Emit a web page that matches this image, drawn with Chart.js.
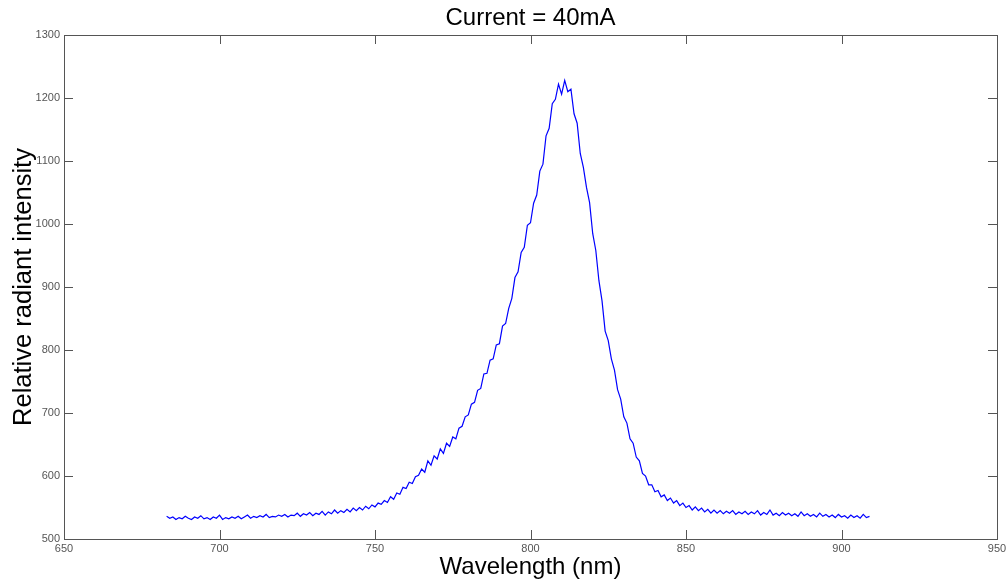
<!DOCTYPE html>
<html>
<head>
<meta charset="utf-8">
<script src="https://cdn.jsdelivr.net/npm/chart.js@4.4.1/dist/chart.umd.min.js"></script>
<style>
  body { margin: 0; background: #fff; }
</style>
</head>
<body>
<canvas id="grafico" width="1007" height="584"></canvas>
<script>
// longitudes de onda (nm), una muestra por nm
const longitudes = [
  683, 684, 685, 686, 687, 688, 689, 690, 691, 692,
  693, 694, 695, 696, 697, 698, 699, 700, 701, 702,
  703, 704, 705, 706, 707, 708, 709, 710, 711, 712,
  713, 714, 715, 716, 717, 718, 719, 720, 721, 722,
  723, 724, 725, 726, 727, 728, 729, 730, 731, 732,
  733, 734, 735, 736, 737, 738, 739, 740, 741, 742,
  743, 744, 745, 746, 747, 748, 749, 750, 751, 752,
  753, 754, 755, 756, 757, 758, 759, 760, 761, 762,
  763, 764, 765, 766, 767, 768, 769, 770, 771, 772,
  773, 774, 775, 776, 777, 778, 779, 780, 781, 782,
  783, 784, 785, 786, 787, 788, 789, 790, 791, 792,
  793, 794, 795, 796, 797, 798, 799, 800, 801, 802,
  803, 804, 805, 806, 807, 808, 809, 810, 811, 812,
  813, 814, 815, 816, 817, 818, 819, 820, 821, 822,
  823, 824, 825, 826, 827, 828, 829, 830, 831, 832,
  833, 834, 835, 836, 837, 838, 839, 840, 841, 842,
  843, 844, 845, 846, 847, 848, 849, 850, 851, 852,
  853, 854, 855, 856, 857, 858, 859, 860, 861, 862,
  863, 864, 865, 866, 867, 868, 869, 870, 871, 872,
  873, 874, 875, 876, 877, 878, 879, 880, 881, 882,
  883, 884, 885, 886, 887, 888, 889, 890, 891, 892,
  893, 894, 895, 896, 897, 898, 899, 900, 901, 902,
  903, 904, 905, 906, 907, 908, 909
]

// intensidad relativa
const intensidad = [
  536, 533, 535, 531, 534, 532, 536, 533, 531, 535,
  533, 537, 532, 534, 531, 535, 533, 538, 531, 534,
  532, 535, 533, 536, 532, 535, 538, 533, 536, 534,
  537, 535, 539, 534, 536, 535, 538, 536, 539, 535,
  538, 537, 541, 536, 540, 538, 542, 537, 541, 539,
  544, 538, 543, 540, 546, 541, 545, 542, 547, 543,
  549, 545, 550, 546, 552, 548, 554, 551, 557, 555,
  561, 558, 567, 563, 573, 571, 582, 580, 590, 588,
  599, 601, 611, 606, 624, 617, 632, 627, 643, 636,
  652, 647, 662, 659, 676, 679, 694, 697, 714, 717,
  736, 739, 762, 763, 784, 786, 808, 810, 838, 842,
  866, 882, 915, 924, 955, 963, 998, 1002, 1033, 1046,
  1084, 1095, 1140, 1152, 1191, 1198, 1222, 1206, 1228, 1210,
  1214, 1175, 1160, 1112, 1090, 1058, 1034, 985, 958, 910,
  878, 830, 815, 786, 768, 737, 722, 694, 684, 659,
  652, 630, 624, 604, 600, 586, 586, 575, 577, 567,
  570, 561, 565, 557, 561, 553, 557, 550, 553, 546,
  551, 545, 549, 543, 547, 541, 546, 541, 545, 540,
  544, 541, 545, 539, 543, 540, 544, 539, 543, 540,
  545, 538, 542, 539, 546, 538, 541, 537, 542, 538,
  541, 537, 540, 536, 543, 537, 540, 536, 539, 535,
  541, 536, 539, 535, 538, 534, 539, 535, 537, 533,
  538, 534, 537, 533, 539, 534, 536
]

// limites y pasos de los ejes
const ejeX = { min: 650, max: 950, paso: 50 }
const ejeY = { min: 500, max: 1300, paso: 100 }

let puntos = longitudes.map((x, i) => ({ x: x, y: intensidad[i] }))

const fuente = "'Liberation Sans', Arial, sans-serif"

// marco y marcas hacia dentro, estilo matlab
const marcoPlugin = {
  id: 'marco',
  afterDraw(chart) {
    const ctx = chart.ctx
    const area = chart.chartArea
    const sx = chart.scales.x
    const sy = chart.scales.y
    const largo = 9
    ctx.save()
    ctx.strokeStyle = '#555'
    ctx.lineWidth = 1
    ctx.beginPath()
    sx.ticks.forEach(t => {
      if (t.value <= ejeX.min || t.value >= ejeX.max) return
      let px = Math.round(sx.getPixelForValue(t.value)) + 0.5
      ctx.moveTo(px, area.bottom); ctx.lineTo(px, area.bottom - largo)
      ctx.moveTo(px, area.top); ctx.lineTo(px, area.top + largo)
    })
    sy.ticks.forEach(t => {
      if (t.value <= ejeY.min || t.value >= ejeY.max) return
      let py = Math.round(sy.getPixelForValue(t.value)) + 0.5
      ctx.moveTo(area.left, py); ctx.lineTo(area.left + largo, py)
      ctx.moveTo(area.right, py); ctx.lineTo(area.right - largo, py)
    })
    ctx.stroke()
    ctx.strokeRect(Math.round(area.left) + 0.5, Math.round(area.top) + 0.5,
      Math.round(area.right - area.left), Math.round(area.bottom - area.top))
    ctx.restore()
  }
}

let ctx = document.getElementById('grafico').getContext('2d')
let myChart = new Chart(ctx, {
  type: 'line',
  data: {
    datasets: [{
      label: 'Current = 40mA',
      data: puntos,
      borderColor: '#0000ff',
      borderWidth: 1.2,
      pointRadius: 0,
      fill: false,
      tension: 0
    }]
  },
  options: {
    responsive: false,
    animation: false,
    devicePixelRatio: 1,
    layout: { padding: { left: 0, right: 0, top: 0, bottom: 0 } },
    plugins: {
      legend: { display: false },
      tooltip: { enabled: false },
      title: { display: false }
    },
    scales: {
      x: {
        type: 'linear',
        min: ejeX.min,
        max: ejeX.max,
        grid: { display: false, drawTicks: false },
        border: { display: false },
        afterFit: function (scale) {
          scale.height = 45
          scale.paddingLeft = 0
          scale.paddingRight = 10
        },
        ticks: {
          stepSize: ejeX.paso,
          autoSkip: false,
          maxRotation: 0,
          padding: 3,
          color: '#555',
          font: { size: 11, family: fuente },
          callback: v => String(v)
        },
        title: {
          display: true,
          text: 'Wavelength (nm)',
          color: '#000',
          font: { size: 24, family: fuente },
          padding: { top: 0, bottom: 2 }
        }
      },
      // eje superior solo para centrar el titulo sobre el area del grafico
      arriba: {
        type: 'linear',
        position: 'top',
        min: ejeX.min,
        max: ejeX.max,
        grid: { display: false, drawTicks: false },
        border: { display: false },
        ticks: { display: false },
        afterFit: function (scale) {
          scale.height = 35
          scale.paddingLeft = 0
          scale.paddingRight = 0
        },
        title: {
          display: true,
          text: 'Current = 40mA',
          color: '#000',
          font: { size: 24, family: fuente },
          padding: { top: 4, bottom: 0 }
        }
      },
      y: {
        type: 'linear',
        min: ejeY.min,
        max: ejeY.max,
        grid: { display: false, drawTicks: false },
        border: { display: false },
        afterFit: function (scale) { scale.width = 64 },
        ticks: {
          stepSize: ejeY.paso,
          autoSkip: false,
          padding: 4,
          color: '#555',
          font: { size: 11, family: fuente },
          callback: v => String(v)
        },
        title: {
          display: true,
          text: 'Relative radiant intensity',
          color: '#000',
          font: { size: 25.5, family: fuente },
          padding: { top: 9, bottom: 0 }
        }
      }
    }
  },
  plugins: [marcoPlugin]
})
</script>
</body>
</html>
